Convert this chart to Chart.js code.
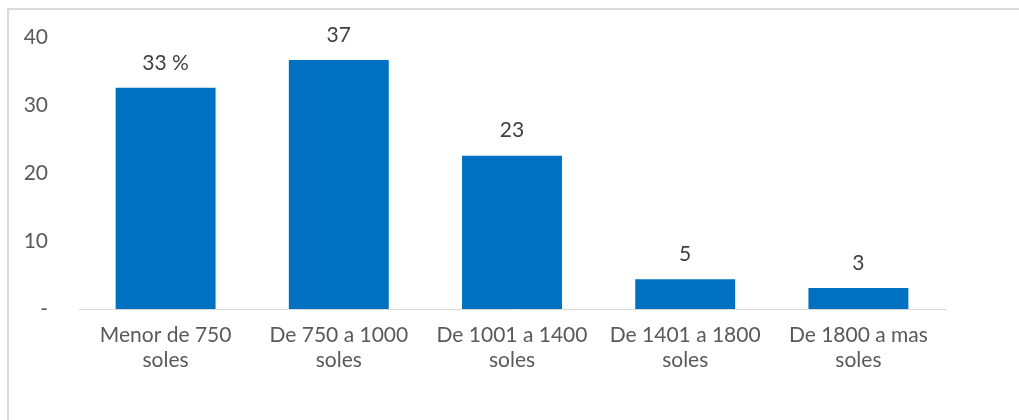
<!DOCTYPE html>
<html><head><meta charset="utf-8">
<script src="https://cdn.jsdelivr.net/npm/chart.js@4/dist/chart.umd.min.js"></script>
<style>
html,body{margin:0;padding:0;background:#fff;overflow:hidden;}
#wrap{position:relative;width:1019px;height:420px;overflow:hidden;}
#frame{position:absolute;left:7px;top:8px;right:-5px;bottom:-5px;border-left:2px solid #d9d9d9;border-top:2px solid #d9d9d9;}
canvas{position:absolute;left:0;top:-6px;}
</style></head>
<body><div id="wrap"><div id="frame"></div><canvas id="c" width="1019" height="426"></canvas></div>
<script>
const categories = [["Menor de 750","soles"],["De 750 a 1000","soles"],["De 1001 a 1400","soles"],["De 1401 a 1800","soles"],["De 1800 a mas","soles"]];
const values = [32.6, 36.7, 22.6, 4.4, 3.1];
const valueLabels = ["33 %","37","23","5","3"];
const yTicks = [0,10,20,30,40];

const FONT = "Lato, 'Open Sans', sans-serif";
const labelPlugin = {
  id:'vlabels',
  afterDatasetsDraw(chart){
    const ctx = chart.ctx;
    const meta = chart.getDatasetMeta(0);
    ctx.save();
    ctx.font = "21px " + FONT;
    ctx.fillStyle = "#404040";
    ctx.textAlign = "center";
    ctx.textBaseline = "middle";
    meta.data.forEach((bar,i)=>{
      ctx.fillText(valueLabels[i], bar.x, bar.y - 25);
    });
    ctx.restore();
  }
};
const canvas = document.getElementById('c');
const chart = new Chart(canvas,{
  type:'bar',
  data:{labels:categories,datasets:[{data:values,backgroundColor:'#0070C0',categoryPercentage:1,barPercentage:0.577}]},
  options:{
    responsive:false,animation:false,
    layout:{padding:{left:0,right:74,top:38,bottom:0}},
    plugins:{legend:{display:false},tooltip:{enabled:false}},
    scales:{
      y:{min:0,max:40,
        afterBuildTicks(s){s.ticks = yTicks.map(v=>({value:v}));},
        afterFit(s){s.width=79;},
        grid:{display:false,drawTicks:false},
        border:{display:false},
        ticks:{padding:31,color:'#595959',font:{family:FONT,size:21},callback:v=>v===0?'-':v}
      },
      x:{
        afterFit(s){s.height=111;},
        grid:{display:false,drawTicks:false},
        border:{display:true,color:'#d9d9d9',width:1},
        ticks:{padding:14,color:'#595959',font:{family:FONT,size:21,lineHeight:1.17},maxRotation:0}
      }
    }
  },
  plugins:[labelPlugin]
});
canvas.style.top = Math.round(38 - chart.chartArea.top) + 'px';
</script></body></html>
